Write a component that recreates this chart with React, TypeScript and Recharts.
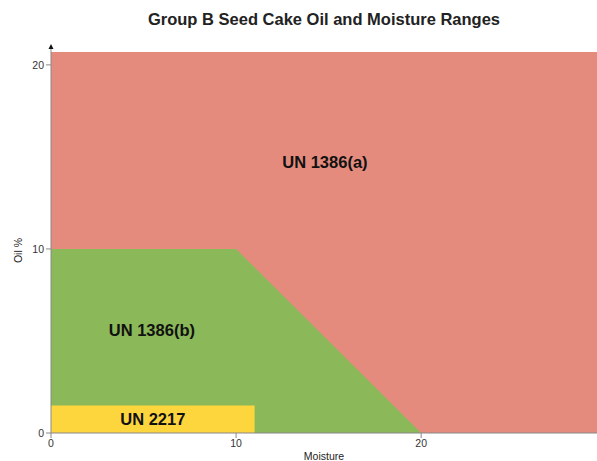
import {
  ComposedChart,
  Area,
  XAxis,
  YAxis,
  ReferenceArea,
  ReferenceDot,
} from "recharts";

const xTicks = [0, 10, 20];
const yTicks = [0, 10, 20];
const xMax = 29.5;
const yMax = 20.7;

// green zone: UN 1386(b) boundary (moisture, oil %)
const zoneB = [
  { moisture: 0, oil: 10 },
  { moisture: 10, oil: 10 },
  { moisture: 20, oil: 0 },
];

// UN 2217 box
const zone2217 = { x1: 0, x2: 11, y1: 0, y2: 1.5 };

const zoneLabels = [
  { text: "UN 1386(a)", moisture: 14.8, oil: 14.7 },
  { text: "UN 1386(b)", moisture: 5.45, oil: 5.6 },
];

const font = "'Liberation Sans', Arial, Helvetica, sans-serif";

const ArrowHead = (props: any) => {
  const { cx, cy } = props;
  return (
    <g>
      <line x1={cx} y1={cy} x2={cx} y2={cy - 5} stroke="#888" strokeWidth={1} />
      <path d={`M${cx - 2.5},${cy - 3} L${cx + 2.5},${cy - 3} L${cx},${cy - 8} Z`} fill="#111" />
    </g>
  );
};

// y-axis title sits a bit below the plot centre in the original
const OilLabel = (props: any) => {
  const { viewBox } = props;
  const cx = 18;
  const cy = viewBox.y + viewBox.height / 2 + 8;
  return (
    <text
      x={cx}
      y={cy}
      transform={`rotate(-90, ${cx}, ${cy})`}
      textAnchor="middle"
      dominantBaseline="central"
      fill="#222"
      fontSize={10.5}
      fontFamily={font}
    >
      Oil %
    </text>
  );
};

export default function App() {
  return (
    <div style={{ position: "absolute", left: 0, top: 0, width: 597, height: 461, fontFamily: font }}>
      <div
        style={{
          position: "absolute",
          top: 10,
          left: 51,
          width: 546,
          textAlign: "center",
          fontSize: 16.5,
          fontWeight: "bold",
          color: "#222",
        }}
      >
        Group B Seed Cake Oil and Moisture Ranges
      </div>
      <ComposedChart
        width={597}
        height={461}
        data={zoneB}
        margin={{ top: 52, right: 0, left: 0, bottom: 0 }}
      >
        <ReferenceArea
          x1={0}
          x2={xMax}
          y1={0}
          y2={yMax}
          fill="#E48B7D"
          fillOpacity={1}
          stroke="none"
        />
        <Area
          type="linear"
          dataKey="oil"
          baseValue={0}
          stroke="none"
          fill="#8BB858"
          fillOpacity={1}
          isAnimationActive={false}
          dot={false}
          activeDot={false}
        />
        <ReferenceArea
          x1={zone2217.x1}
          x2={zone2217.x2}
          y1={zone2217.y1}
          y2={zone2217.y2}
          fill="#FDD63E"
          fillOpacity={1}
          stroke="none"
          label={{ value: "UN 2217", position: "center", fill: "#111", fontSize: 16.5, fontWeight: "bold", fontFamily: font }}
        />
        {zoneLabels.map((l) => (
          <ReferenceDot
            key={l.text}
            x={l.moisture}
            y={l.oil}
            r={0}
            stroke="none"
            label={{ value: l.text, position: "center", fill: "#111", fontSize: 16.5, fontWeight: "bold", fontFamily: font }}
          />
        ))}
        <ReferenceDot x={0} y={yMax} shape={ArrowHead} ifOverflow="visible" />
        <XAxis
          type="number"
          dataKey="moisture"
          domain={[0, xMax]}
          ticks={xTicks}
          height={28}
          stroke="#888"
          tickSize={5}
          tick={{ fill: "#333", fontSize: 10.5, fontFamily: font }}
          label={{ value: "Moisture", position: "insideBottom", offset: 1, fill: "#222", fontSize: 10.5, fontFamily: font }}
        />
        <YAxis
          type="number"
          domain={[0, yMax]}
          ticks={yTicks}
          width={51}
          stroke="#888"
          tickSize={5}
          tick={{ fill: "#333", fontSize: 10.5, fontFamily: font }}
          label={<OilLabel />}
        />
      </ComposedChart>
    </div>
  );
}
